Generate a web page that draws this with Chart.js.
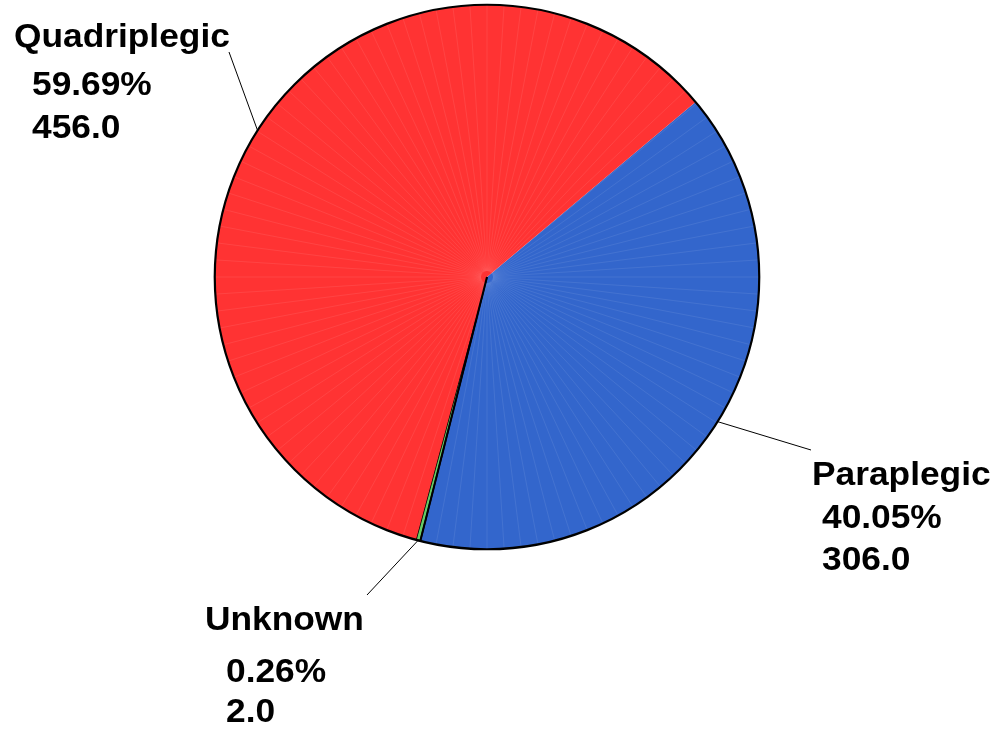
<!DOCTYPE html>
<html><head><meta charset="utf-8">
<script src="https://cdn.jsdelivr.net/npm/chart.js@4"></script>
<style>html,body{margin:0;padding:0;background:#fff}#wrap{width:996px;height:729px}</style>
</head><body><div id="wrap"><canvas id="c" width="996" height="729"></canvas></div>
<script>
const categories = ['Paraplegic', 'Unknown', 'Quadriplegic'];
const values = [306, 2, 456];
const sliceColors = ['#3366CC', '#66CC66', '#FF3333'];

// label placements (text anchors and leader-line outer ends)
const labelPlaces = [
  { lead: [811, 450], lines: [[812, 485], [822, 528], [822, 570]] },
  { lead: [367, 595], lines: [[205, 630], [226, 682], [226, 722]] },
  { lead: [229, 52],  lines: [[14, 47],  [32, 95],   [32, 138]] }
];

const total = values.reduce((a, b) => a + b, 0);

const decorPlugin = {
  id: 'decor',
  afterDatasetsDraw(chart) {
    const ctx = chart.ctx;
    const meta = chart.getDatasetMeta(0);
    const a0 = meta.data[0];
    const cx = a0.x, cy = a0.y, r = a0.outerRadius;
    ctx.save();
    // faint facet lines
    ctx.strokeStyle = 'rgba(255,255,255,0.14)';
    ctx.lineWidth = 0.6;
    for (let i = 0; i < 100; i++) {
      const ang = i * Math.PI * 2 / 100;
      ctx.beginPath();
      ctx.moveTo(cx + 6 * Math.cos(ang), cy + 6 * Math.sin(ang));
      ctx.lineTo(cx + r * Math.cos(ang), cy + r * Math.sin(ang));
      ctx.stroke();
    }
    // black edge of the small slice
    const g = meta.data[1];
    ctx.strokeStyle = '#000';
    ctx.lineWidth = 2;
    ctx.beginPath();
    ctx.moveTo(cx, cy);
    ctx.lineTo(cx + r * Math.cos(g.startAngle), cy + r * Math.sin(g.startAngle));
    ctx.stroke();
    // outline
    ctx.lineWidth = 2.2;
    ctx.beginPath();
    ctx.arc(cx, cy, r, 0, Math.PI * 2);
    ctx.stroke();
    // leader lines + labels
    ctx.lineWidth = 1;
    meta.data.forEach((arc, i) => {
      const mid = (arc.startAngle + arc.endAngle) / 2;
      const px = cx + r * Math.cos(mid), py = cy + r * Math.sin(mid);
      const p = labelPlaces[i];
      ctx.strokeStyle = '#000';
      ctx.beginPath();
      ctx.moveTo(px, py);
      ctx.lineTo(p.lead[0], p.lead[1]);
      ctx.stroke();
      const texts = [categories[i], (values[i] / total * 100).toFixed(2) + '%', values[i].toFixed(1)];
      ctx.fillStyle = '#000';
      ctx.font = 'bold 33px "Liberation Sans", Arial, sans-serif';
      ctx.textBaseline = 'alphabetic';
      ctx.textAlign = 'left';
      texts.forEach((t, j) => {
        ctx.save();
        ctx.translate(p.lines[j][0], p.lines[j][1]);
        ctx.scale(1.07, 1);
        ctx.fillText(t, 0, 0);
        ctx.restore();
      });
    });
    ctx.restore();
  }
};

new Chart(document.getElementById('c'), {
  type: 'pie',
  data: {
    labels: categories,
    datasets: [{
      data: values,
      backgroundColor: sliceColors,
      borderColor: '#000',
      borderWidth: [0, 1.5, 0]
    }]
  },
  options: {
    responsive: false,
    animation: false,
    events: [],
    rotation: 50,
    layout: { padding: { left: 214, right: 236, top: 4, bottom: 179 } },
    plugins: { legend: { display: false }, tooltip: { enabled: false }, title: { display: false } }
  },
  plugins: [decorPlugin]
});
</script>
</body></html>
